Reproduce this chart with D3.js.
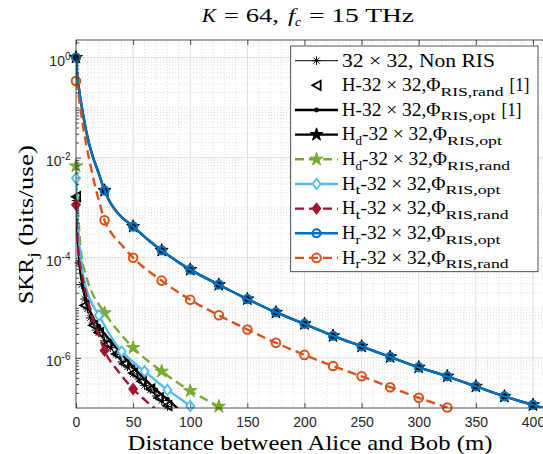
<!DOCTYPE html>
<html>
<head>
<meta charset="utf-8">
<script src="https://cdn.jsdelivr.net/npm/d3@7"></script>
<style>
	body { margin: 0; background: #fff; }
	svg { display: block; }
</style>
</head>
<body>
<svg id="chart" width="543" height="454"></svg>
<script>
// ---- data (distance in m, SKR in bits/use) ----
// Hr opt (Hd opt sits on the same curve)
const dOpt   = [0, 1, 2.5, 5, 7.5, 10, 15, 20, 25, 30, 37.5, 50, 62.5, 75, 100, 125, 150, 175, 200, 225, 250, 275, 300, 325, 350, 375, 400, 425];
const skrOpt = [1, 4.8e-1, 2.5e-1, 1.05e-1, 5.0e-2, 2.6e-2, 1.0e-2, 4.8e-3, 2.2e-3, 1.26e-3, 7.4e-4, 4.2e-4, 2.35e-4, 1.4e-4, 5.8e-5, 2.9e-5, 1.5e-5, 8.1e-6, 4.8e-6, 2.75e-6, 1.7e-6, 1.05e-6, 6.5e-7, 4.3e-7, 2.7e-7, 1.7e-7, 1.15e-7, 7.6e-8];
const optMarks = [0, 25, 50, 75, 100, 125, 150, 175, 200, 225, 250, 275, 300, 325, 350, 375, 400];

// Hr rand
const dHrRand   = [0, 2, 4, 6.5, 9, 12, 16, 20, 25, 32.5, 40, 50, 75, 100, 125, 150, 175, 200, 225, 250, 275, 300, 325];
const skrHrRand = [3.4e-1, 1.9e-1, 8.9e-2, 3.8e-2, 1.8e-2, 8.3e-3, 3.2e-3, 1.4e-3, 5.6e-4, 2.8e-4, 1.8e-4, 1.0e-4, 3.5e-5, 1.45e-5, 7.1e-6, 3.7e-6, 2.0e-6, 1.15e-6, 6.9e-7, 4.3e-7, 2.6e-7, 1.6e-7, 1.02e-7];
const hrRandMarks = [0, 25, 50, 75, 100, 125, 150, 175, 200, 225, 250, 275, 300, 325];

// Hd rand
const dHdRand   = [0, 1, 2.5, 5, 7.5, 10, 15, 20, 25, 37.5, 50, 75, 100, 125, 135];
const skrHdRand = [6.8e-3, 1.8e-3, 4.5e-4, 1.0e-4, 5.6e-5, 3.5e-5, 1.8e-5, 1.17e-5, 7.9e-6, 3.3e-6, 1.6e-6, 5.4e-7, 2.2e-7, 1.07e-7, 7.9e-8];
const hdRandMarks = [0, 25, 50, 75, 100, 125];

// Ht opt
const dHtOpt   = [0, 1, 2.5, 5, 7.5, 10, 15, 20, 30, 40, 50, 60, 70, 80, 90, 100, 110];
const skrHtOpt = [3.9e-3, 1.0e-3, 2.5e-4, 6.3e-5, 3.2e-5, 2.0e-5, 1.1e-5, 7.1e-6, 2.8e-6, 1.35e-6, 8.3e-7, 5.4e-7, 3.5e-7, 2.3e-7, 1.6e-7, 1.1e-7, 7.6e-8];
const htOptMarks = [0, 20, 40, 60, 80, 100];

// Ht rand
const dHtRand   = [0, 1, 2.5, 5, 8, 12, 15, 20, 25, 37.5, 50, 62.5, 75];
const skrHtRand = [1.15e-3, 3.2e-4, 1.1e-4, 5.0e-5, 2.3e-5, 1.0e-5, 6.0e-6, 2.8e-6, 1.4e-6, 5.2e-7, 2.4e-7, 1.3e-7, 7.6e-8];
const htRandMarks = [0, 25, 50, 75];

// H opt [1]
const dHOpt   = [0, 1, 2.5, 5, 7.5, 10, 15, 20, 30, 40, 50, 60, 70, 80, 90];
const skrHOpt = [1.66e-3, 4.0e-4, 1.1e-4, 4.0e-5, 2.0e-5, 1.2e-5, 6.3e-6, 4.3e-6, 2.2e-6, 1.2e-6, 6.6e-7, 3.8e-7, 2.3e-7, 1.5e-7, 9.3e-8];
const hOptMarks = [0, 10, 20, 30, 40, 50, 60, 70, 80, 90];

// Non RIS
const dNonRis   = [0, 2.5, 5, 7.5, 10, 12.5, 15, 17.5, 20, 25, 30, 35, 40, 45, 50, 55, 60, 65, 70, 75, 80, 85];
const skrNonRis = [1.4e-3, 7.9e-5, 2.9e-5, 1.5e-5, 9.5e-6, 6.3e-6, 5.0e-6, 3.6e-6, 3.2e-6, 2.2e-6, 1.6e-6, 1.17e-6, 8.3e-7, 6.6e-7, 4.8e-7, 3.8e-7, 2.8e-7, 2.3e-7, 1.74e-7, 1.4e-7, 1.07e-7, 8.5e-8];

// H rand [1] (markers only)
const dHRand   = [0, 7.5, 15, 20, 27.5, 35, 42.5, 50, 57.5, 65, 72.5, 80];
const skrHRand = [1.66e-3, 1.12e-5, 4.5e-6, 3.2e-6, 1.9e-6, 1.2e-6, 7.6e-7, 5.0e-7, 3.4e-7, 2.4e-7, 1.6e-7, 1.12e-7];

// axes
const xLimits = [0, 410];
const yLimits = [1e-7, 2.2387];
const xTickValues = [0, 50, 100, 150, 200, 250, 300, 350, 400];
const yTickValues = [1, 1e-2, 1e-4, 1e-6];
const yTickExp = ['0', '-2', '-4', '-6'];

const axisColor = '#262626';
const sans = '"Liberation Sans", Arial, sans-serif';
const serif = '"Liberation Serif", "DejaVu Serif", "Times New Roman", serif';

const svg = d3.select('#chart');
const x = d3.scaleLinear().domain(xLimits).range([76, 544.4]);
const y = d3.scaleLog().domain(yLimits).range([408, 40]);
const [x0, x1] = x.range();
const [yB, yT] = y.range();

svg.append('defs').append('clipPath').attr('id', 'plotclip')
	.append('rect').attr('x', x0).attr('y', yT).attr('width', x1 - x0).attr('height', yB - yT);

// ---- grid ----
const grid = svg.append('g');
const xMinor = d3.range(10, 410, 10).filter(v => v % 50 !== 0);
const yMinor = [];
for (let e = -7; e <= 0; e++) {
	for (let k = 1; k <= 9; k++) {
		const v = k * Math.pow(10, e);
		if (v > yLimits[0] && v < yLimits[1] && !(k === 1 && e % 2 === 0)) yMinor.push(v);
	}
}
grid.selectAll('.xminor').data(xMinor).join('line')
	.attr('x1', d => x(d)).attr('x2', d => x(d)).attr('y1', yT).attr('y2', yB)
	.style('stroke', '#c9c9c9').style('stroke-width', 0.6).style('stroke-dasharray', '1,2');
grid.selectAll('.yminor').data(yMinor).join('line')
	.attr('x1', x0).attr('x2', x1).attr('y1', d => y(d)).attr('y2', d => y(d))
	.style('stroke', '#c9c9c9').style('stroke-width', 0.6).style('stroke-dasharray', '1,2');
grid.selectAll('.xmajor').data(xTickValues.slice(1)).join('line')
	.attr('x1', d => x(d)).attr('x2', d => x(d)).attr('y1', yT).attr('y2', yB)
	.style('stroke', '#dedede').style('stroke-width', 1);
grid.selectAll('.ymajor').data(yTickValues).join('line')
	.attr('x1', x0).attr('x2', x1).attr('y1', d => y(d)).attr('y2', d => y(d))
	.style('stroke', '#dedede').style('stroke-width', 1);

// ---- marker shapes ----
function markerPath(type, s) {
	switch (type) {
		case 'circle': return d3.symbol(d3.symbolCircle, Math.PI * s * s)();
		case 'star': return d3.symbol(d3.symbolStar, s * s / 0.8908)();
		case 'diamond': return `M0,${-s}L${s * 0.78},0L0,${s}L${-s * 0.78},0Z`;
		case 'triLeft': return `M${-s * 0.9},0L${s * 0.9},${-s}L${s * 0.9},${s}Z`;
		case 'asterisk': {
			const r = s, q = s * 0.7;
			return `M${-r},0H${r}M0,${-r}V${r}M${-q},${-q}L${q},${q}M${-q},${q}L${q},${-q}`;
		}
		case 'dot': return d3.symbol(d3.symbolCircle, Math.PI * s * s)();
	}
}

function pick(ds, vs, marks) {
	return marks.map(m => [m, vs[ds.indexOf(m)]]);
}
function zip(ds, vs) { return ds.map((d, i) => [d, vs[i]]); }

const series = [
	{ key: 'nonRis', pts: zip(dNonRis, skrNonRis), marks: zip(dNonRis, skrNonRis), color: '#000', width: 1, marker: 'asterisk', size: 4.3, fill: 'none', mw: 1 },
	{ key: 'hRand', pts: null, marks: zip(dHRand, skrHRand), color: '#000', width: 0, marker: 'triLeft', size: 4.6, fill: 'none', mw: 1.8 },
	{ key: 'hOpt', pts: zip(dHOpt, skrHOpt), marks: pick(dHOpt, skrHOpt, hOptMarks), color: '#000', width: 2.4, marker: 'dot', size: 2.4, fill: '#000', mw: 0 },
	{ key: 'hdOpt', pts: zip(dOpt, skrOpt), marks: pick(dOpt, skrOpt, optMarks), color: '#000', width: 2.4, marker: 'star', size: 6.8, fill: '#000', mw: 1 },
	{ key: 'hdRand', pts: zip(dHdRand, skrHdRand), marks: pick(dHdRand, skrHdRand, hdRandMarks), color: '#77AC30', width: 2.4, dash: '9,5', marker: 'star', size: 7, fill: '#77AC30', mw: 1 },
	{ key: 'htOpt', pts: zip(dHtOpt, skrHtOpt), marks: pick(dHtOpt, skrHtOpt, htOptMarks), color: '#4DBEEE', width: 2.4, marker: 'diamond', size: 5.2, fill: '#fff', mw: 1.8 },
	{ key: 'htRand', pts: zip(dHtRand, skrHtRand), marks: pick(dHtRand, skrHtRand, htRandMarks), color: '#A2142F', width: 2.4, dash: '9,5', marker: 'diamond', size: 5.2, fill: '#A2142F', mw: 1.5 },
	{ key: 'hrOpt', pts: zip(dOpt, skrOpt), marks: pick(dOpt, skrOpt, optMarks), color: '#0072BD', width: 2.4, marker: 'circle', size: 4, fill: 'none', mw: 2.2 },
	{ key: 'hrRand', pts: zip(dHrRand, skrHrRand), marks: pick(dHrRand, skrHrRand, hrRandMarks), color: '#D95319', width: 2.4, dash: '9,5', marker: 'circle', size: 4.3, fill: 'none', mw: 2 }
];

const line = d3.line().x(d => x(d[0])).y(d => y(d[1])).curve(d3.curveMonotoneX);
const plot = svg.append('g');

series.forEach(s => {
	if (s.pts) {
		plot.append('path')
			.attr('clip-path', 'url(#plotclip)')
			.attr('d', line(s.pts))
			.style('fill', 'none')
			.style('stroke', s.color)
			.style('stroke-width', s.width)
			.style('stroke-dasharray', s.dash || null);
	}
	const inside = s.marks.filter(d => d[0] >= xLimits[0] && d[0] <= xLimits[1] && d[1] >= yLimits[0] * 0.999 && d[1] <= yLimits[1]);
	plot.selectAll(null).data(inside).join('path')
		.attr('transform', d => `translate(${x(d[0])},${y(d[1])})`)
		.attr('d', markerPath(s.marker, s.size))
		.style('fill', s.fill)
		.style('stroke', s.color)
		.style('stroke-width', s.mw);
});

// ---- axes ----
const gx = svg.append('g').attr('transform', `translate(0,${yB})`)
	.call(d3.axisBottom(x).tickValues(xTickValues).tickSizeInner(-5).tickSizeOuter(0).tickPadding(9).tickFormat(d3.format('d')));
const gxTop = svg.append('g').attr('transform', `translate(0,${yT})`)
	.call(d3.axisTop(x).tickValues(xTickValues).tickSizeInner(-5).tickSizeOuter(0).tickFormat(''));
const gyMinor = svg.append('g').attr('transform', `translate(${x0},0)`)
	.call(d3.axisLeft(y).tickValues(yMinor).tickSizeInner(-3).tickSizeOuter(0).tickFormat(''));
const gy = svg.append('g').attr('transform', `translate(${x0},0)`)
	.call(d3.axisLeft(y).tickValues(yTickValues).tickSizeInner(-5).tickSizeOuter(0).tickFormat(''));

[gx, gxTop, gyMinor, gy].forEach(g => {
	g.select('.domain').remove();
	g.selectAll('line').style('stroke', axisColor).style('stroke-width', 0.8);
});
gx.selectAll('text')
	.style('font-family', sans)
	.style('font-size', '14px')
	.style('fill', axisColor);

gy.selectAll('.tick').each(function (d, i) {
	const t = d3.select(this).append('text')
		.attr('x', -5.5)
		.attr('y', 7.5)
		.attr('text-anchor', 'end')
		.style('font-family', sans)
		.style('font-size', '14px')
		.style('fill', axisColor);
	t.append('tspan').text('10');
	t.append('tspan').attr('dy', -6).style('font-size', '10px').text(yTickExp[i]);
});

svg.append('rect')
	.attr('x', x0).attr('y', yT).attr('width', x1 - x0).attr('height', yB - yT)
	.style('fill', 'none').style('stroke', axisColor).style('stroke-width', 0.8);

// ---- text pieces: each piece is its own <text> stretched to the width seen in the figure ----
// piece: [text, width, kind]  kind: '' normal, 'sub' subscript, 'it' italic, 'itsub', 'gap'
function drawPieces(g, pieces, size, subSize, subDrop) {
	let cx = 0;
	pieces.forEach(([txt, w, kind]) => {
		if (kind !== 'gap') {
			const sub = kind === 'sub' || kind === 'itsub';
			g.append('text')
				.attr('x', cx).attr('y', sub ? subDrop : 0)
				.attr('textLength', w).attr('lengthAdjust', 'spacingAndGlyphs')
				.style('font-family', serif)
				.style('font-size', (sub ? subSize : size) + 'px')
				.style('font-style', kind === 'it' || kind === 'itsub' ? 'italic' : null)
				.style('fill', '#000')
				.text(txt);
		}
		cx += w;
	});
}

// ---- legend ----
const phiText = '-32 × 32,Φ';
const legendItems = [
	{ s: 'nonRis', pieces: [['32 × 32, Non RIS', 153]] },
	{ s: 'hRand', pieces: [['H', 13.5], [phiText, 85], ['RIS,rand', 63, 'sub'], ['', 6, 'gap'], ['[1]', 20]] },
	{ s: 'hOpt', pieces: [['H', 13.5], [phiText, 85], ['RIS,opt', 55, 'sub'], ['', 6, 'gap'], ['[1]', 20]] },
	{ s: 'hdOpt', pieces: [['H', 13.5], ['d', 6.5, 'sub'], [phiText, 85], ['RIS,opt', 55, 'sub']] },
	{ s: 'hdRand', pieces: [['H', 13.5], ['d', 6.5, 'sub'], [phiText, 85], ['RIS,rand', 63, 'sub']] },
	{ s: 'htOpt', pieces: [['H', 13.5], ['t', 5, 'sub'], [phiText, 85], ['RIS,opt', 55, 'sub']] },
	{ s: 'htRand', pieces: [['H', 13.5], ['t', 5, 'sub'], [phiText, 85], ['RIS,rand', 63, 'sub']] },
	{ s: 'hrOpt', pieces: [['H', 13.5], ['r', 5, 'sub'], [phiText, 85], ['RIS,opt', 55, 'sub']] },
	{ s: 'hrRand', pieces: [['H', 13.5], ['r', 5, 'sub'], [phiText, 85], ['RIS,rand', 63, 'sub']] }
];

const leg = svg.append('g');
leg.append('rect')
	.attr('x', 290.7).attr('y', 46).attr('width', 247.3).attr('height', 225.7)
	.style('fill', '#fff').style('stroke', axisColor).style('stroke-width', 0.8);

legendItems.forEach((item, i) => {
	const s = series.find(v => v.key === item.s);
	const cy = 60.7 + i * 24.65;
	const row = leg.append('g');
	if (s.pts) {
		row.append('line')
			.attr('x1', 295).attr('x2', 338).attr('y1', cy).attr('y2', cy)
			.style('stroke', s.color).style('stroke-width', s.width)
			.style('stroke-dasharray', s.dash || null);
	}
	row.append('path')
		.attr('transform', `translate(316.5,${cy})`)
		.attr('d', markerPath(s.marker, s.size))
		.style('fill', s.fill).style('stroke', s.color).style('stroke-width', s.mw);
	const tg = row.append('g').attr('transform', `translate(342,${cy + 5.8})`);
	drawPieces(tg, item.pieces, 18.5, 13.5, 4.5);
});

// ---- titles ----
const titleG = svg.append('g').attr('transform', 'translate(202,22)');
drawPieces(titleG, [['K', 14, 'it'], ['', 8, 'gap'], ['= 64,', 55], ['', 9, 'gap'], ['f', 7, 'it'], ['c', 6, 'itsub'], ['', 8, 'gap'], ['= 15 THz', 105]], 18, 13, 4);

svg.append('text')
	.attr('x', 310).attr('y', 450).attr('text-anchor', 'middle')
	.attr('textLength', 365).attr('lengthAdjust', 'spacingAndGlyphs')
	.style('font-family', serif).style('font-size', '22px').style('fill', '#000')
	.text('Distance between Alice and Bob (m)');

const ylabG = svg.append('g').attr('transform', 'translate(33,304) rotate(-90)');
drawPieces(ylabG, [['SKR', 46], ['j', 6, 'sub'], ['', 6, 'gap'], ['(bits/use)', 101]], 22, 15, 5);
</script>
</body>
</html>
